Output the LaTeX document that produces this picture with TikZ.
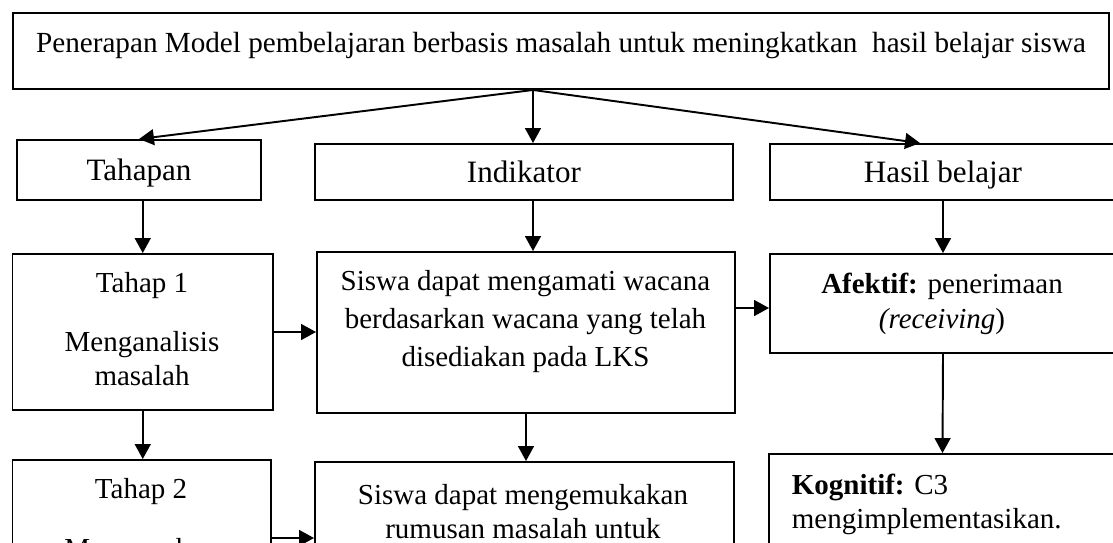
\documentclass[tikz,border=0pt]{standalone}
\usepackage{fontspec}
\setmainfont{Liberation Serif}
\usetikzlibrary{arrows.meta}
\newcommand{\hurufjudul}{\fontsize{16.6pt}{19pt}\selectfont}
\newcommand{\hurufkepala}{\fontsize{17.7pt}{20pt}\selectfont}
\newcommand{\hurufisi}{\fontsize{16.5pt}{19pt}\selectfont}
\tikzset{
    kotak/.style={draw,line width=1.1pt,inner sep=0pt},
    kepala/.style={kotak,font=\hurufkepala,text depth=0pt},
    isi/.style={inner sep=0pt,align=center,anchor=base,font=\hurufisi},
    panah/.style={line width=1.1pt,-{Triangle[length=8.5pt,width=9pt]}}
}
\begin{document}
\begin{tikzpicture}
    \useasboundingbox (0,0) rectangle (22.26,-10.84);
    \clip (0,0) rectangle (22.26,-10.84);
    \node[kotak,font=\hurufjudul,minimum width=21.92cm,text height=0.78cm,text depth=0.74cm] (judul) at (11.22,-1.02)
        {Penerapan Model pembelajaran berbasis masalah untuk meningkatkan\ \ hasil belajar siswa};
    \coordinate (cabang) at ([xshift=-0.56cm]judul.south);
    \node[kepala,minimum width=4.88cm,minimum height=1.2cm] (tahapan) at (2.78,-3.4) {Tahapan};
    \node[kepala,minimum width=8.36cm,minimum height=1.12cm] (indikator) at (10.48,-3.44) {Indikator};
    \node[kepala,minimum width=6.92cm,minimum height=1.12cm] (hasil) at (18.86,-3.44) {Hasil belajar};
    \node[kotak,minimum width=5.21cm,minimum height=3.12cm] (tahap1) at (2.855,-6.64) {};
    \node[kotak,minimum width=8.36cm,minimum height=3.22cm] (siswa1) at (10.52,-6.65) {};
    \node[kotak,minimum width=6.92cm,minimum height=1.98cm] (afektif) at (18.86,-6.07) {};
    \node[kotak,minimum width=5.17cm,minimum height=3.12cm] (tahap2) at (2.835,-10.76) {};
    \node[kotak,minimum width=8.38cm,minimum height=3.22cm] (siswa2) at (10.49,-10.85) {};
    \node[kotak,minimum width=6.94cm,minimum height=2.92cm] (kognitif) at (18.85,-10.54) {};
    \node[isi] (tahap1-teks) at (2.84,-7.7) {Tahap 1\\[15.1pt]Menganalisis\\[-0.2pt]masalah};
    \node[isi] (siswa1-teks) at (10.51,-7.32) {Siswa dapat mengamati wacana\\[2.6pt]berdasarkan wacana yang telah\\[2.6pt]disediakan pada LKS};
    \node[isi] (afektif-teks) at (18.84,-6.56) {\textbf{Afektif:} penerimaan\\[0.9pt]\textit{(receiving})};
    \node[isi] (tahap2-teks) at (2.82,-11.16) {Tahap 2\\[15.1pt]Merumuskan};
    \node[isi] (siswa2-teks) at (10.46,-10.76) {Siswa dapat mengemukakan\\[-0.2pt]rumusan masalah untuk};
    \node[isi,align=left,anchor=base west] (kognitif-teks) at (15.83,-10.56) {\textbf{Kognitif:} C3\\[0.3pt]mengimplementasikan.};
    \draw[panah] (cabang) -- (tahapan.north);
    \draw[panah] (cabang) -- (cabang |- indikator.north);
    \draw[panah] (cabang) -- ([xshift=-0.46cm]hasil.north);
    \draw[panah] (tahapan.south -| tahap1.north) -- (tahap1.north);
    \draw[panah] (tahap1.south) -- (tahap1.south |- tahap2.north);
    \draw[panah] (tahap1.east) -- (tahap1.east -| siswa1.west);
    \draw[panah] (tahap2.east) -- (tahap2.east -| siswa2.west);
    \draw[panah] (cabang |- indikator.south) -- (cabang |- siswa1.north);
    \draw[panah] (siswa1.south) -- (siswa1.south |- siswa2.north);
    \draw[panah] ([yshift=-0.09cm]afektif.west -| siswa1.east) -- ([yshift=-0.09cm]afektif.west);
    \draw[panah] (hasil.south) -- (afektif.north);
    \draw[panah] (afektif.south) -- (kognitif.north);
\end{tikzpicture}
\end{document}
